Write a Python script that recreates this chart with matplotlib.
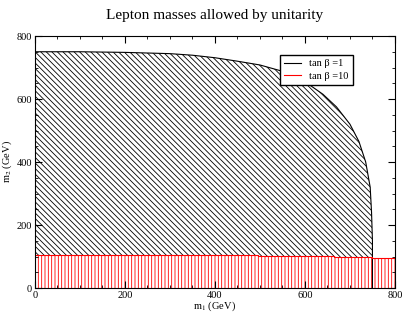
import matplotlib.pyplot as plt
from matplotlib.lines import Line2D
from matplotlib.ticker import MultipleLocator

# tan beta = 1 : upper boundary of allowed region
m1_tb1 = [0, 100, 200, 300, 350, 400, 450, 500, 550, 600, 640, 670, 700, 720, 735, 745, 748, 750, 750]
m2_tb1 = [750, 750, 748, 744, 739, 731, 720, 708, 688, 655, 615, 575, 520, 465, 400, 320, 240, 150, 0]

# tan beta = 10 : upper boundary (steps)
m1_tb10 = [0, 495, 665, 750, 800]
m2_tb10 = [104, 102, 100, 96, 96]

plt.rcParams['font.family'] = ['Liberation Serif', 'DejaVu Serif']
plt.rcParams['mathtext.fontset'] = 'stix'
plt.rcParams['hatch.linewidth'] = 0.6

fig = plt.figure(figsize=(4.03, 3.15), dpi=100)
ax = fig.add_axes([0.0868, 0.0857, 0.8932, 0.8])

plt.rcParams['hatch.color'] = 'black'
ax.fill_between(m1_tb1, 0, m2_tb1, facecolor='white', edgecolor='black',
                hatch='\\' * 6, linewidth=0)
ax.plot(m1_tb1, m2_tb1, color='black', lw=0.8)

plt.rcParams['hatch.color'] = 'red'
ax.fill_between(m1_tb10, 0, m2_tb10, step='post', facecolor='white',
                edgecolor='red', hatch='|||||', linewidth=0)
ax.step(m1_tb10, m2_tb10, where='post', color='red', lw=0.8)

ax.set_xlim(0, 800)
ax.set_ylim(0, 800)
ax.xaxis.set_major_locator(MultipleLocator(200))
ax.xaxis.set_minor_locator(MultipleLocator(50))
ax.yaxis.set_major_locator(MultipleLocator(200))
ax.yaxis.set_minor_locator(MultipleLocator(50))
ax.tick_params(which='both', direction='in', top=True, right=True, labelsize=7.5, pad=2)
ax.tick_params(which='major', length=5)
ax.tick_params(which='minor', length=2.5)

ax.set_xlabel('m$_1$ (GeV)', fontsize=7.5, labelpad=0)
ax.set_ylabel('m$_2$ (GeV)', fontsize=7.5, labelpad=2)
ax.set_title('Lepton masses allowed by unitarity', fontsize=11, pad=12)

handles = [Line2D([], [], color='black', lw=0.8), Line2D([], [], color='red', lw=0.8)]
ax.legend(handles, ['tan \u03b2 =1', 'tan \u03b2 =10'], loc='upper right',
          bbox_to_anchor=(0.883, 0.925), borderaxespad=0, fontsize=7.5,
          fancybox=False, edgecolor='black', framealpha=1, handlelength=1.6,
          borderpad=0.4, labelspacing=0.3)

fig.savefig('out.png', dpi=100)
